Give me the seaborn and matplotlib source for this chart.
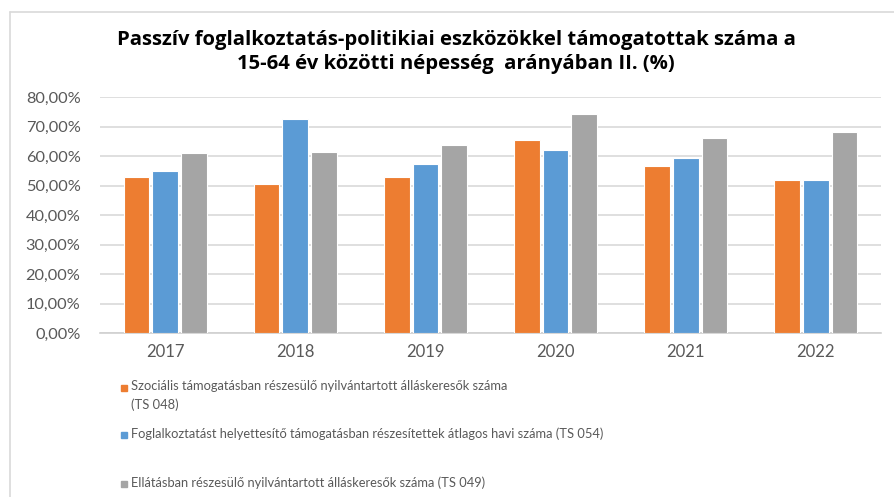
import matplotlib
matplotlib.use("Agg")
import matplotlib.pyplot as plt
from matplotlib.ticker import FuncFormatter, FixedLocator
from matplotlib.patches import Rectangle
from matplotlib.lines import Line2D
import seaborn as sns
import pandas as pd

years = ["2017", "2018", "2019", "2020", "2021", "2022"]
series_names = [
    "Szociális támogatásban részesülő nyilvántartott álláskeresők száma\n(TS 048)",
    "Foglalkoztatást helyettesítő támogatásban részesítettek átlagos havi száma (TS 054)",
    "Ellátásban részesülő nyilvántartott álláskeresők száma (TS 049)",
]
ts048 = [53.0, 50.7, 53.0, 65.4, 56.8, 51.8]
ts054 = [55.0, 72.5, 57.2, 62.0, 59.4, 52.1]
ts049 = [61.2, 61.5, 63.7, 74.5, 66.3, 68.2]
colors = ["#ED7D31", "#5B9BD5", "#A5A5A5"]

title = "Passzív foglalkoztatás-politikiai eszközökkel támogatottak száma a\n15-64 év közötti népesség  arányában II. (%)"

rows = []
for name, vals in zip(series_names, [ts048, ts054, ts049]):
    for y, v in zip(years, vals):
        rows.append({"year": y, "value": v, "series": name})
df = pd.DataFrame(rows)

sns.set_style("white")
plt.rcParams["font.family"] = ["Lato", "DejaVu Sans"]

fig = plt.figure(figsize=(8.95, 4.97), dpi=100)
ax = fig.add_axes([100 / 895, 1 - 333 / 497, 781 / 895, (333 - 97.3) / 497])

sns.barplot(data=df, x="year", y="value", hue="series", palette=colors,
            width=0.66, gap=0.1, ax=ax, legend=False,
            edgecolor="white", linewidth=0.8, saturation=1, zorder=3)

ax.set_ylim(0, 80)
ax.set_xlim(-0.5, 5.5)
ax.set_yticks(range(0, 81, 10))
ax.yaxis.set_major_formatter(FuncFormatter(lambda v, p: f"{v:.2f}".replace(".", ",") + "%"))
ax.grid(axis="y", color="#d9d9d9", linewidth=1.2, zorder=0)
ax.set_axisbelow(True)
for s in ["top", "right", "left"]:
    ax.spines[s].set_visible(False)
ax.spines["bottom"].set_color("#d0d0d0")
ax.spines["bottom"].set_linewidth(1.2)
ax.set_xlabel("")
ax.set_ylabel("")
ax.tick_params(axis="y", length=0, pad=14, labelsize=11.8, labelcolor="#595959")
ax.tick_params(axis="x", which="major", length=0, pad=8, labelsize=12, labelcolor="#595959")
ax.xaxis.set_minor_locator(FixedLocator([i - 0.5 for i in range(7)]))
ax.tick_params(axis="x", which="minor", length=5, color="#d0d0d0", width=1.2)

fig.text(456 / 895, 1 - 52 / 497, title, ha="center", va="center",
         fontsize=14.6, fontweight="bold", color="black", linespacing=1.3,
         family=["Open Sans", "DejaVu Sans"])

# chart border (top and left edges)
fig.add_artist(Line2D([10 / 895, 1], [1 - 12 / 497] * 2, color="#d9d9d9", lw=1.2))
fig.add_artist(Line2D([10 / 895] * 2, [0, 1 - 12 / 497], color="#d9d9d9", lw=1.2))

# legend
leg_y = [388, 435, 484]
for name, c, y in zip(series_names, colors, leg_y):
    fig.add_artist(Rectangle((121 / 895, 1 - (y + 3) / 497), 6 / 895, 6 / 497,
                             color=c, transform=fig.transFigure))
    fig.text(131 / 895, 1 - (y - 8) / 497, name, ha="left", va="top",
             fontsize=9.3, color="#595959", linespacing=1.65)

fig.savefig("out.png", dpi=100)
